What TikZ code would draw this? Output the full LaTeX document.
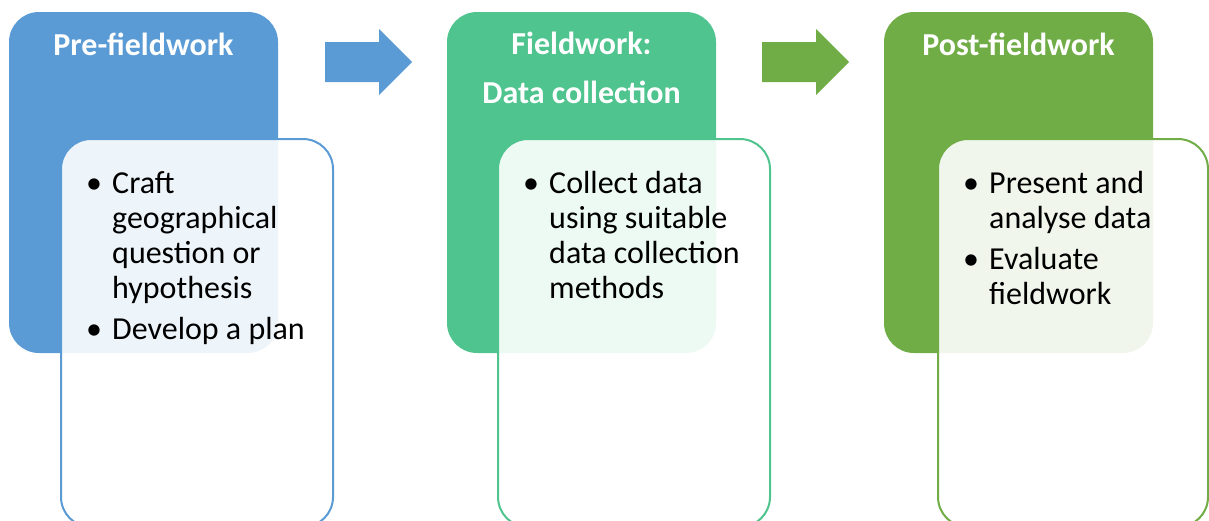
\documentclass[tikz,border=0pt]{standalone}
\usepackage{fontspec}
\setmainfont{Carlito}
\definecolor{blu}{HTML}{5B9BD5}
\definecolor{tea}{HTML}{4FC48E}
\definecolor{grn}{HTML}{70AD47}
\tikzset{
	hd/.style={rounded corners=30pt},
	bd/.style={rounded corners=30pt, fill=white, fill opacity=0.9, line width=2pt},
	ttl/.style={text=white, font=\fontsize{32}{49}\selectfont\bfseries, text width=260pt, align=flush center, anchor=base, inner sep=0pt},
	txt/.style={font=\fontsize{32}{35}\selectfont, text width=220pt, align=flush left, anchor=base west, inner sep=0pt},
	bul/.style={font=\fontsize{32}{35}\selectfont, anchor=base west, inner sep=0pt},
}

\begin{document}
\begin{tikzpicture}[x=1pt, y=-1pt]
	\useasboundingbox (0,0) rectangle (1209,520);

	% pre-fieldwork
	\fill [blu, hd] (9,12) rectangle (278,353);
	\draw [blu, bd] (61,139) rectangle (333,527);
	\node [ttl] (pre) at (143.5,55) {Pre-fieldwork};
	\node [bul] (preb1) at (86,193) {•};
	\node [txt] (pre1) at (112,193) {Craft\\geographical\\question or\\hypothesis};
	\node [bul] (preb2) at (86,339) {•};
	\node [txt] (pre2) at (112,339) {Develop a plan};

	\fill [blu] (325,42) -- (379,42) -- (379,29) -- (412,62) -- (379,95) -- (379,82) -- (325,82) -- cycle;

	% fieldwork
	\fill [tea, hd] (447,12) rectangle (716,353);
	\draw [tea, bd] (498,139) rectangle (770,527);
	\node [ttl] (fw) at (581.5,54) {Fieldwork:\\Data collection};
	\node [bul] (fwb1) at (523,193) {•};
	\node [txt] (fw1) at (549,193) {Collect data\\using suitable\\data collection\\methods};

	\fill [grn] (762,42) -- (816,42) -- (816,29) -- (849,62) -- (816,95) -- (816,82) -- (762,82) -- cycle;

	% post-fieldwork
	\fill [grn, hd] (884,12) rectangle (1153,353);
	\draw [grn, bd] (938,139) rectangle (1208,527);
	\node [ttl] (post) at (1018.5,55) {Post-fieldwork};
	\node [bul] (postb1) at (963,193) {•};
	\node [txt] (post1) at (989,193) {Present and\\analyse data};
	\node [bul] (postb2) at (963,269) {•};
	\node [txt] (post2) at (989,269) {Evaluate\\fieldwork};
\end{tikzpicture}
\end{document}
